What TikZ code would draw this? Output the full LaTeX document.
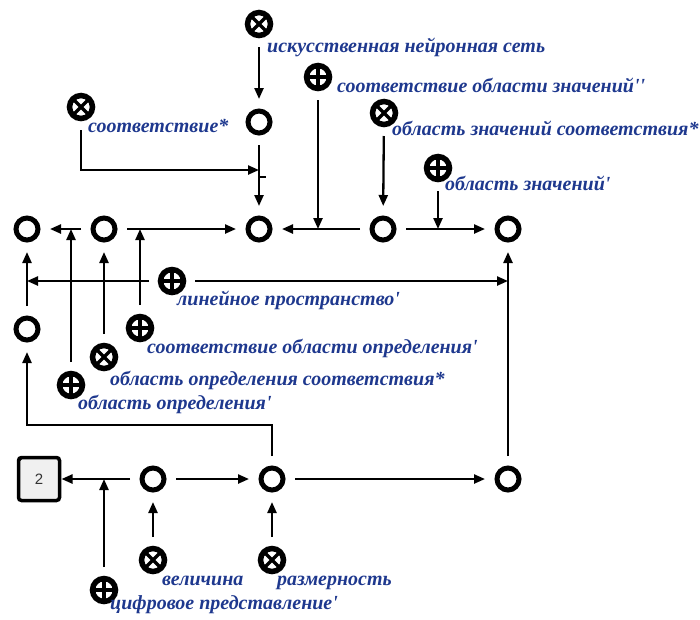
\documentclass[tikz,border=0pt]{standalone}
\usepackage{fontspec}
\setmainfont{Liberation Serif}
\setsansfont{Liberation Sans}
\newfontfamily\lblfont{Liberation Serif}[Ligatures=TeXOff]
\usetikzlibrary{arrows.meta}
\definecolor{lblblue}{RGB}{30,56,142}
\begin{document}
\begin{tikzpicture}[x=1pt,y=-1pt,
  ring/.style={circle,draw,line width=5pt,minimum size=22pt,inner sep=0pt,outer sep=12pt},
  symb/.style={circle,draw,line width=5.5pt,minimum size=23pt,inner sep=0pt,outer sep=11.5pt},
  pn/.style={symb,path picture={\draw[line width=3.5pt] (path picture bounding box.north) -- (path picture bounding box.south) (path picture bounding box.west) -- (path picture bounding box.east);}},
  xn/.style={symb,path picture={\draw[line width=3.5pt] (path picture bounding box.north west) -- (path picture bounding box.south east) (path picture bounding box.south west) -- (path picture bounding box.north east);}},
  numbox/.style={draw,line width=3.5pt,rounded corners=3pt,fill=black!6,minimum width=41pt,minimum height=43pt,inner sep=0pt,outer sep=2pt,font=\sffamily\fontsize{15}{15}\selectfont,text=black!80},
  conn/.style={line width=2.3pt,-{Triangle[length=11pt,width=9pt]}},
  lbl/.style={anchor=base west,inner sep=0pt,text=lblblue,font=\lblfont\bfseries\itshape\fontsize{20}{22}\selectfont}]
\useasboundingbox (0,0) rectangle (700,619);
% symbols and nodes
\node[xn] (nn) at (259,24) {};
\node[ring] (r0) at (259,122) {};
\node[xn] (sx) at (81,107) {};
\node[pn] (sozp) at (318,77) {};
\node[xn] (ozs) at (384,113) {};
\node[pn] (oz) at (438,168) {};
\node[ring] (C1) at (27,229) {};
\node[ring] (C2) at (104,229) {};
\node[ring] (C3) at (259,229) {};
\node[ring] (C4) at (383,229) {};
\node[ring] (C5) at (508,229) {};
\node[pn] (lin) at (172,281) {};
\node[ring] (C6) at (27,329) {};
\node[pn] (soo) at (140,328) {};
\node[xn] (oos) at (104,357) {};
\node[pn] (oo) at (71,385) {};
\node[numbox] (B0) at (39,479) {2};
\node[ring] (B1) at (153,479) {};
\node[ring] (B2) at (272,479) {};
\node[ring] (B3) at (508,479) {};
\node[xn] (vel) at (153,560) {};
\node[xn] (raz) at (272,560) {};
\node[pn] (cif) at (104,590) {};
\fill ([shift={(1.5,1.5)}]B0.north west) -- ++(6,0) -- ++(-6,6) -- cycle;
% labels
\node[lbl] (t1) at (267,52) {искусственная нейронная сеть};
\node[lbl] (t2) at (88,132) {соответствие*};
\node[lbl] (t3) at (337,92) {соответствие области значений''};
\node[lbl] (t4) at (392,135) {область значений соответствия*};
\node[lbl] (t5) at (445,190) {область значений'};
\node[lbl] (t6) at (177,305) {линейное пространство'};
\node[lbl] (t7) at (147,353) {соответствие области определения'};
\node[lbl] (t8) at (110,385) {область определения соответствия*};
\node[lbl] (t9) at (78,409) {область определения'};
\node[lbl] (t10) at (162,585) {величина};
\node[lbl] (t11) at (277,585) {размерность};
\node[lbl] (t12) at (110,609) {цифровое представление'};
% connectors
\coordinate (k1) at (259,170);
\coordinate (k2) at (27,425);
\draw[conn] (nn) -- (r0);
\draw[conn] (r0) -- (C3);
\draw[conn] (sx) |- (k1);
\draw[line width=1.5pt] (259,177) -- (266,177);
\draw[conn] (C2) -- (C1);
\draw[conn] (C2) -- (C3);
\draw[conn] (C4) -- (C3);
\draw[conn] (C4) -- (C5);
\draw[conn] (sozp) -- (sozp |- C3);
\draw[conn] (ozs) -- (C4);
\draw[conn] (oz) -- (oz |- C4);
\draw[conn] (lin) -- (lin -| C1);
\draw[conn] (lin) -- (lin -| C5);
\draw[conn] (C6) -- (C1);
\draw[conn] (soo) -- (soo |- C2);
\draw[conn] (oos) -- (C2);
\draw[conn] (oo) -- (oo |- C1);
\draw[conn] (B2) |- (k2) -- (C6);
\draw[conn] (B3) -- (C5);
\draw[conn] (B1) -- (B0);
\draw[conn] (B1) -- (B2);
\draw[conn] (B2) -- (B3);
\draw[conn] (cif) -- (cif |- B1);
\draw[conn] (vel) -- (B1);
\draw[conn] (raz) -- (B2);
\end{tikzpicture}
\end{document}
